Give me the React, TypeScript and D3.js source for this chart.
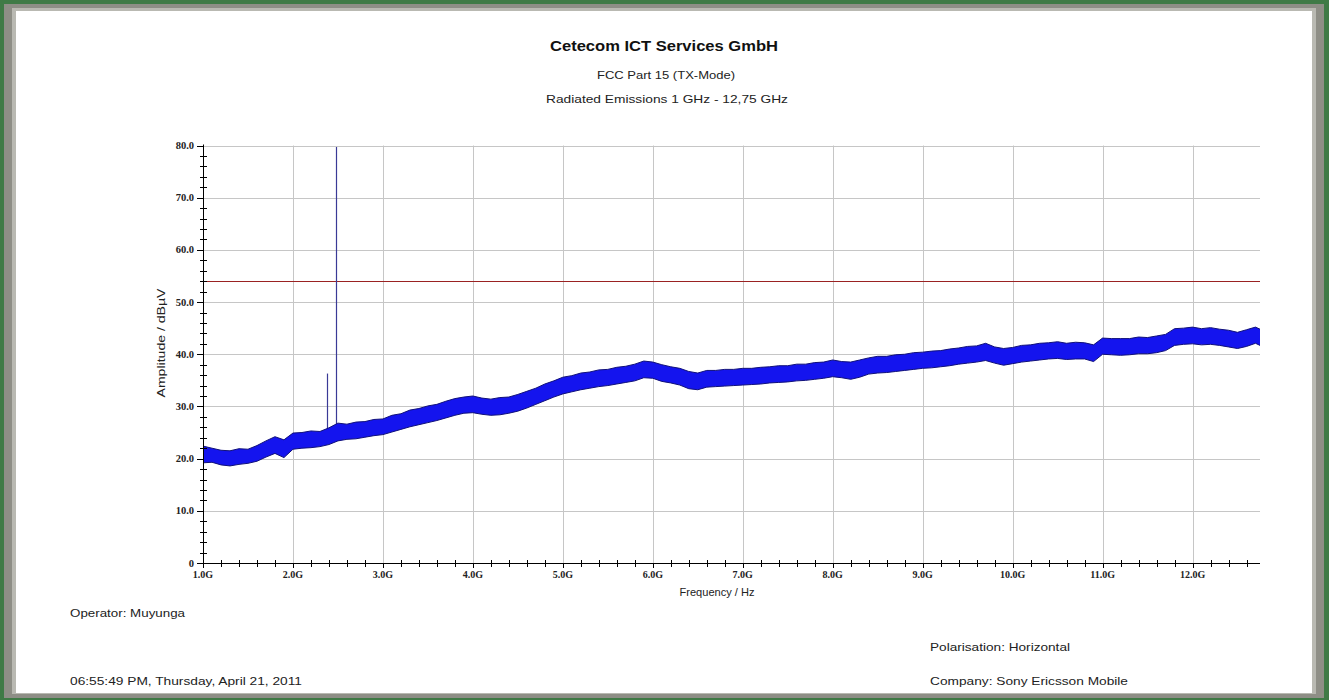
import React from 'react';
import * as d3 from 'd3';

const W = 1329;
const H = 700;

const titleText = 'Cetecom ICT Services GmbH';
const subtitle1 = 'FCC Part 15 (TX-Mode)';
const subtitle2 = 'Radiated Emissions 1 GHz - 12,75 GHz';
const yAxisTitle = 'Amplitude / dBµV';
const xAxisTitle = 'Frequency / Hz';
const operatorText = 'Operator: Muyunga';
const dateText = '06:55:49 PM, Thursday, April 21, 2011';
const polarText = 'Polarisation: Horizontal';
const companyText = 'Company: Sony Ericsson Mobile';

// Frequency samples (GHz)
const freqGHz = [
  1.0, 1.1, 1.2, 1.3, 1.4, 1.5, 1.6, 1.7, 1.8, 1.9,
  2.0, 2.1, 2.2, 2.3, 2.4, 2.5, 2.6, 2.7, 2.8, 2.9,
  3.0, 3.1, 3.2, 3.3, 3.4, 3.5, 3.6, 3.7, 3.8, 3.9,
  4.0, 4.1, 4.2, 4.3, 4.4, 4.5, 4.6, 4.7, 4.8, 4.9,
  5.0, 5.1, 5.2, 5.3, 5.4, 5.5, 5.6, 5.7, 5.8, 5.9,
  6.0, 6.1, 6.2, 6.3, 6.4, 6.5, 6.6, 6.7, 6.8, 6.9,
  7.0, 7.1, 7.2, 7.3, 7.4, 7.5, 7.6, 7.7, 7.8, 7.9,
  8.0, 8.1, 8.2, 8.3, 8.4, 8.5, 8.6, 8.7, 8.8, 8.9,
  9.0, 9.1, 9.2, 9.3, 9.4, 9.5, 9.6, 9.7, 9.8, 9.9,
  10.0, 10.1, 10.2, 10.3, 10.4, 10.5, 10.6, 10.7, 10.8, 10.9,
  11.0, 11.1, 11.2, 11.3, 11.4, 11.5, 11.6, 11.7, 11.8, 11.9,
  12.0, 12.1, 12.2, 12.3, 12.4, 12.5, 12.6, 12.7, 12.75,
];

// Lower edge of the noise band (dBµV)
const traceLow = [
  19.2, 19.3, 18.8, 18.6, 18.9, 19.1, 19.5, 20.3, 21.0, 20.2,
  21.8, 22.0, 22.1, 22.3, 22.7, 23.4, 23.7, 23.8, 24.1, 24.4,
  24.6, 25.1, 25.6, 26.1, 26.5, 26.9, 27.3, 27.8, 28.3, 28.7,
  28.8, 28.5, 28.3, 28.4, 28.7, 29.1, 29.7, 30.4, 31.1, 31.8,
  32.4, 32.8, 33.2, 33.5, 33.8, 34.0, 34.3, 34.6, 34.9, 35.5,
  35.4, 34.8, 34.5, 34.1, 33.4, 33.2, 33.7, 33.8, 33.9, 34.0,
  34.1, 34.2, 34.3, 34.5, 34.6, 34.7, 34.9, 35.0, 35.2, 35.4,
  35.7, 35.5, 35.2, 35.6, 36.2, 36.4, 36.5, 36.7, 36.9, 37.1,
  37.3, 37.4, 37.6, 37.8, 38.1, 38.3, 38.5, 38.8, 38.3, 37.9,
  38.2, 38.5, 38.7, 38.9, 39.1, 39.2, 39.0, 39.1, 39.1, 38.6,
  40.0, 39.9, 39.8, 39.9, 40.1, 40.1, 40.3, 40.7, 41.7, 41.9,
  42.0, 41.8, 41.9, 41.7, 41.4, 41.1, 41.5, 42.1, 41.7,
];

// Upper edge of the noise band (dBµV)
const traceHigh = [
  22.4, 22.0, 21.6, 21.5, 21.9, 21.8, 22.5, 23.4, 24.2, 23.6,
  24.9, 25.0, 25.3, 25.2, 25.9, 26.8, 26.6, 27.0, 27.1, 27.5,
  27.6, 28.3, 28.6, 29.3, 29.6, 30.1, 30.4, 31.0, 31.5, 31.8,
  32.0, 31.6, 31.4, 31.7, 31.8, 32.3, 32.9, 33.5, 34.3, 34.9,
  35.6, 35.9, 36.4, 36.6, 37.0, 37.1, 37.5, 37.7, 38.1, 38.7,
  38.5, 38.0, 37.6, 37.3, 36.7, 36.4, 36.9, 36.9, 37.1, 37.1,
  37.3, 37.3, 37.5, 37.6, 37.8, 37.8, 38.1, 38.1, 38.4, 38.5,
  38.9, 38.6, 38.5, 38.9, 39.3, 39.6, 39.6, 39.9, 40.0, 40.3,
  40.4, 40.6, 40.7, 41.0, 41.2, 41.5, 41.6, 42.1, 41.4, 41.1,
  41.3, 41.7, 41.8, 42.1, 42.2, 42.4, 42.1, 42.3, 42.2, 41.8,
  43.1, 43.0, 43.0, 43.0, 43.3, 43.2, 43.5, 43.8, 44.9, 45.0,
  45.2, 44.9, 45.1, 44.8, 44.6, 44.2, 44.7, 45.2, 44.8,
];

// Narrow carrier spikes
const spikeFreqGHz = [2.38, 2.478];
const spikeTopDb = [36.3, 79.7];
const spikeBaseDb = [23.0, 23.6];

// Limit line
const limitDb = 54;

const yMajorTicks = [0, 10, 20, 30, 40, 50, 60, 70, 80];
const yTickLabels = ['0', '10.0', '20.0', '30.0', '40.0', '50.0', '60.0', '70.0', '80.0'];
const xMajorTicks = [1, 2, 3, 4, 5, 6, 7, 8, 9, 10, 11, 12];
const xTickLabels = ['1.0G', '2.0G', '3.0G', '4.0G', '5.0G', '6.0G', '7.0G', '8.0G', '9.0G', '10.0G', '11.0G', '12.0G'];

const X0 = 203;
const X1 = 1260;
const Y0 = 563;
const Y1 = 145.5;

export default function App() {
  const x = d3.scaleLinear().domain([1, 12.75]).range([X0, X1]);
  const y = d3.scaleLinear().domain([0, 80]).range([Y0, Y1]);
  const px = (v: number) => Math.round(v) + 0.5;

  const idx = d3.range(freqGHz.length);
  const area = d3
    .area<number>()
    .x((i) => x(freqGHz[i]))
    .y0((i) => y(traceLow[i]))
    .y1((i) => y(traceHigh[i]));
  const lineHigh = d3
    .line<number>()
    .x((i) => x(freqGHz[i]))
    .y((i) => y(traceHigh[i]));
  const lineLow = d3
    .line<number>()
    .x((i) => x(freqGHz[i]))
    .y((i) => y(traceLow[i]));

  const xMinor = d3.range(1, 12.7, 0.2).filter((v) => Math.abs(v - Math.round(v)) > 0.01);
  const yMinor = d3.range(0, 80.1, 2).filter((v) => v % 10 !== 0);

  const sans = '"Liberation Sans", Arial, sans-serif';
  const serif = '"Liberation Serif", "Times New Roman", serif';

  return (
    <svg width={W} height={H} style={{ position: 'absolute', left: 0, top: 0, display: 'block' }}>
      {/* frame */}
      <rect x={0} y={0} width={W} height={H} fill="#3f7a46" />
      <rect x={4} y={4} width={1320} height={694} fill="#8e8e86" />
      <rect x={12} y={8} width={1304} height={686} fill="#b9b9b2" />
      <rect x={16} y={11} width={1296} height={682} fill="#ffffff" />

      {/* grid */}
      {yMajorTicks.filter((v) => v > 0).map((v) => (
        <line key={'gy' + v} x1={X0} x2={X1} y1={px(y(v))} y2={px(y(v))} stroke="#c6c6c6" strokeWidth={1} />
      ))}
      {xMajorTicks.filter((v) => v > 1).map((v) => (
        <line key={'gx' + v} x1={px(x(v))} x2={px(x(v))} y1={Y1} y2={Y0} stroke="#c6c6c6" strokeWidth={1} />
      ))}

      {/* limit line */}
      <line x1={X0} x2={X1} y1={px(y(limitDb))} y2={px(y(limitDb))} stroke="#9a2222" strokeWidth={1} />

      {/* spikes */}
      {spikeFreqGHz.map((f, i) => (
        <line key={'sp' + i} x1={px(x(f))} x2={px(x(f))} y1={y(spikeBaseDb[i])} y2={y(spikeTopDb[i])} stroke="#3a3a96" strokeWidth={1.2} />
      ))}

      {/* noise band */}
      <path d={area(idx) || ''} fill="#1414ee" stroke="none" />
      <path d={lineHigh(idx) || ''} fill="none" stroke="#10107a" strokeWidth={1} />
      <path d={lineLow(idx) || ''} fill="none" stroke="#10107a" strokeWidth={1} />

      {/* axes */}
      <line x1={X0 + 0.5} x2={X0 + 0.5} y1={Y1 - 1} y2={Y0 + 1} stroke="#000" strokeWidth={1} />
      <line x1={X0} x2={X1} y1={Y0 + 0.5} y2={Y0 + 0.5} stroke="#000" strokeWidth={1} />

      {/* y ticks */}
      {yMajorTicks.map((v) => (
        <line key={'yt' + v} x1={X0 - 6} x2={X0} y1={px(y(v))} y2={px(y(v))} stroke="#000" />
      ))}
      {yMinor.map((v) => (
        <line key={'ym' + v} x1={X0 - 3} x2={X0 + 4} y1={px(y(v))} y2={px(y(v))} stroke="#000" />
      ))}
      {yMajorTicks.map((v, i) => (
        <text key={'yl' + v} x={194} y={y(v) + 3.5} textAnchor="end" fontFamily={serif} fontWeight="bold" fontSize={10.5} fill="#222">
          {yTickLabels[i]}
        </text>
      ))}

      {/* x ticks */}
      {xMajorTicks.map((v) => (
        <line key={'xt' + v} x1={px(x(v))} x2={px(x(v))} y1={Y0} y2={Y0 + 5} stroke="#000" />
      ))}
      {xMinor.map((v, i) => (
        <line key={'xm' + i} x1={px(x(v))} x2={px(x(v))} y1={Y0 - 3} y2={Y0 + 4} stroke="#000" />
      ))}
      {xMajorTicks.map((v, i) => (
        <text key={'xl' + v} x={x(v)} y={578} textAnchor="middle" fontFamily={serif} fontWeight="bold" fontSize={10} fill="#222">
          {xTickLabels[i]}
        </text>
      ))}

      {/* titles */}
      <text x={664} y={51} textAnchor="middle" fontFamily={sans} fontWeight="bold" fontSize={15.5} fill="#111" textLength={228} lengthAdjust="spacingAndGlyphs">
        {titleText}
      </text>
      <text x={666} y={79} textAnchor="middle" fontFamily={sans} fontSize={10.5} fill="#222" textLength={138} lengthAdjust="spacingAndGlyphs">
        {subtitle1}
      </text>
      <text x={667} y={103} textAnchor="middle" fontFamily={sans} fontSize={10.5} fill="#222" textLength={242} lengthAdjust="spacingAndGlyphs">
        {subtitle2}
      </text>

      {/* axis titles */}
      <text
        transform={`translate(165, 343) rotate(-90)`}
        textAnchor="middle"
        fontFamily={sans}
        fontSize={11}
        fill="#222"
        textLength={109}
        lengthAdjust="spacingAndGlyphs"
      >
        {yAxisTitle}
      </text>
      <text x={717} y={596} textAnchor="middle" fontFamily={sans} fontSize={11} fill="#222" textLength={75} lengthAdjust="spacingAndGlyphs">
        {xAxisTitle}
      </text>

      {/* footer */}
      <text x={70} y={617} fontFamily={sans} fontSize={11} fill="#222" textLength={115} lengthAdjust="spacingAndGlyphs">
        {operatorText}
      </text>
      <text x={70} y={685} fontFamily={sans} fontSize={11} fill="#222" textLength={232} lengthAdjust="spacingAndGlyphs">
        {dateText}
      </text>
      <text x={930} y={651} fontFamily={sans} fontSize={11} fill="#222" textLength={140} lengthAdjust="spacingAndGlyphs">
        {polarText}
      </text>
      <text x={930} y={685} fontFamily={sans} fontSize={11} fill="#222" textLength={198} lengthAdjust="spacingAndGlyphs">
        {companyText}
      </text>
    </svg>
  );
}
